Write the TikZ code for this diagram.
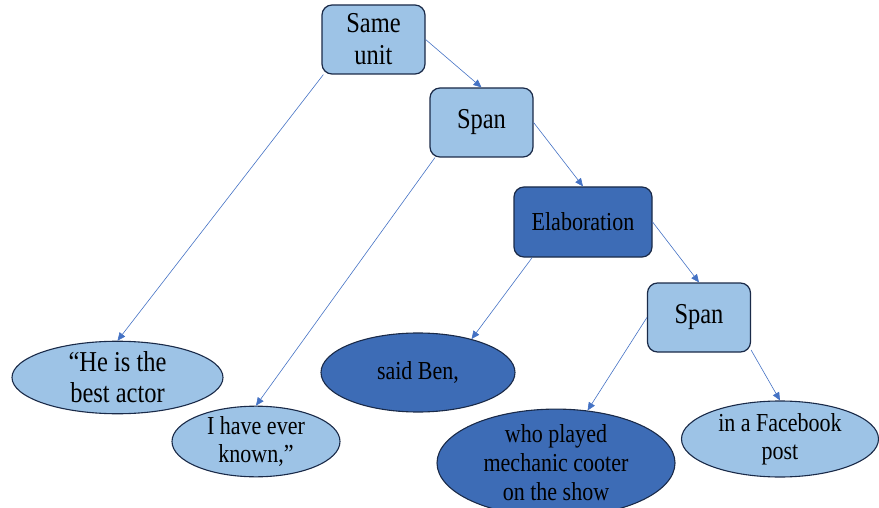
\documentclass[tikz,border=0pt]{standalone}
\usepackage{fontspec}
\setmainfont{Liberation Serif}[FakeStretch=0.85]
\usepackage{tikz}
\usetikzlibrary{shapes.geometric,arrows.meta}

\definecolor{lightfill}{HTML}{9DC3E6}
\definecolor{darkfill}{HTML}{3D6CB6}
\definecolor{rimcol}{HTML}{1A2A48}
\definecolor{linkcol}{HTML}{4472C4}

\begin{document}
\begin{tikzpicture}[x=1pt, y=-1pt,
  relbox/.style={draw=rimcol, line width=1.2pt, fill=lightfill, rounded corners=10pt,
    minimum width=103pt, minimum height=69pt, inner sep=0pt, align=center,
    font=\fontsize{28.8}{32}\selectfont},
  reldark/.style={relbox, fill=darkfill, minimum width=138pt, minimum height=70pt,
    font=\fontsize{25.9}{30}\selectfont},
  edu/.style={ellipse, draw=rimcol, line width=1.1pt, fill=lightfill, inner sep=0pt,
    align=center, font=\fontsize{25.9}{28}\selectfont},
  edudark/.style={edu, fill=darkfill},
  link/.style={draw=linkcol, line width=0.6pt, -{Triangle[width=7pt,length=8pt]}}]
\useasboundingbox (0,0) rectangle (879,508);

% relation nodes
\node[relbox] (same) at (373.5,39.5) {Same\\unit};
\node[relbox] (span1) at (481.5,122.5) {Span};
\node[reldark] (elab) at (583,222) {Elaboration};
\node[relbox] (span2) at (699,317.5) {Span};

% elementary units
\node[edu, minimum width=211pt, minimum height=69pt, font=\fontsize{28.8}{31}\selectfont]
  (he) at (117.5,377.5) {``He is the\\best actor};
\node[edu, minimum width=168pt, minimum height=69pt] (ever) at (256,441.5) {I have ever\\known,''};
\node[edudark, minimum width=194pt, minimum height=79pt] (ben) at (418,372.5) {said Ben,};
\node[edudark, minimum width=238pt, minimum height=100pt, font=\fontsize{25.9}{29}\selectfont]
  (who) at (556,463) {who played\\mechanic cooter\\on the show};
\node[edu, minimum width=197pt, minimum height=76pt] (fb) at (780,439) {in a Facebook\\post};

\draw[link] (same.east) -- (span1.north);
\draw[link] (same.215) -- (he.north);
\draw[link] (span1.east) -- (elab.north);
\draw[link] (span1.217) -- (ever.north);
\draw[link] (elab.east) -- (span2.north);
\draw[link] (elab.215) -- (ben.32);
\draw[link] (span2.west) -- (who.59);
\draw[link] (span2.-32) -- (fb.north);
\end{tikzpicture}
\end{document}
